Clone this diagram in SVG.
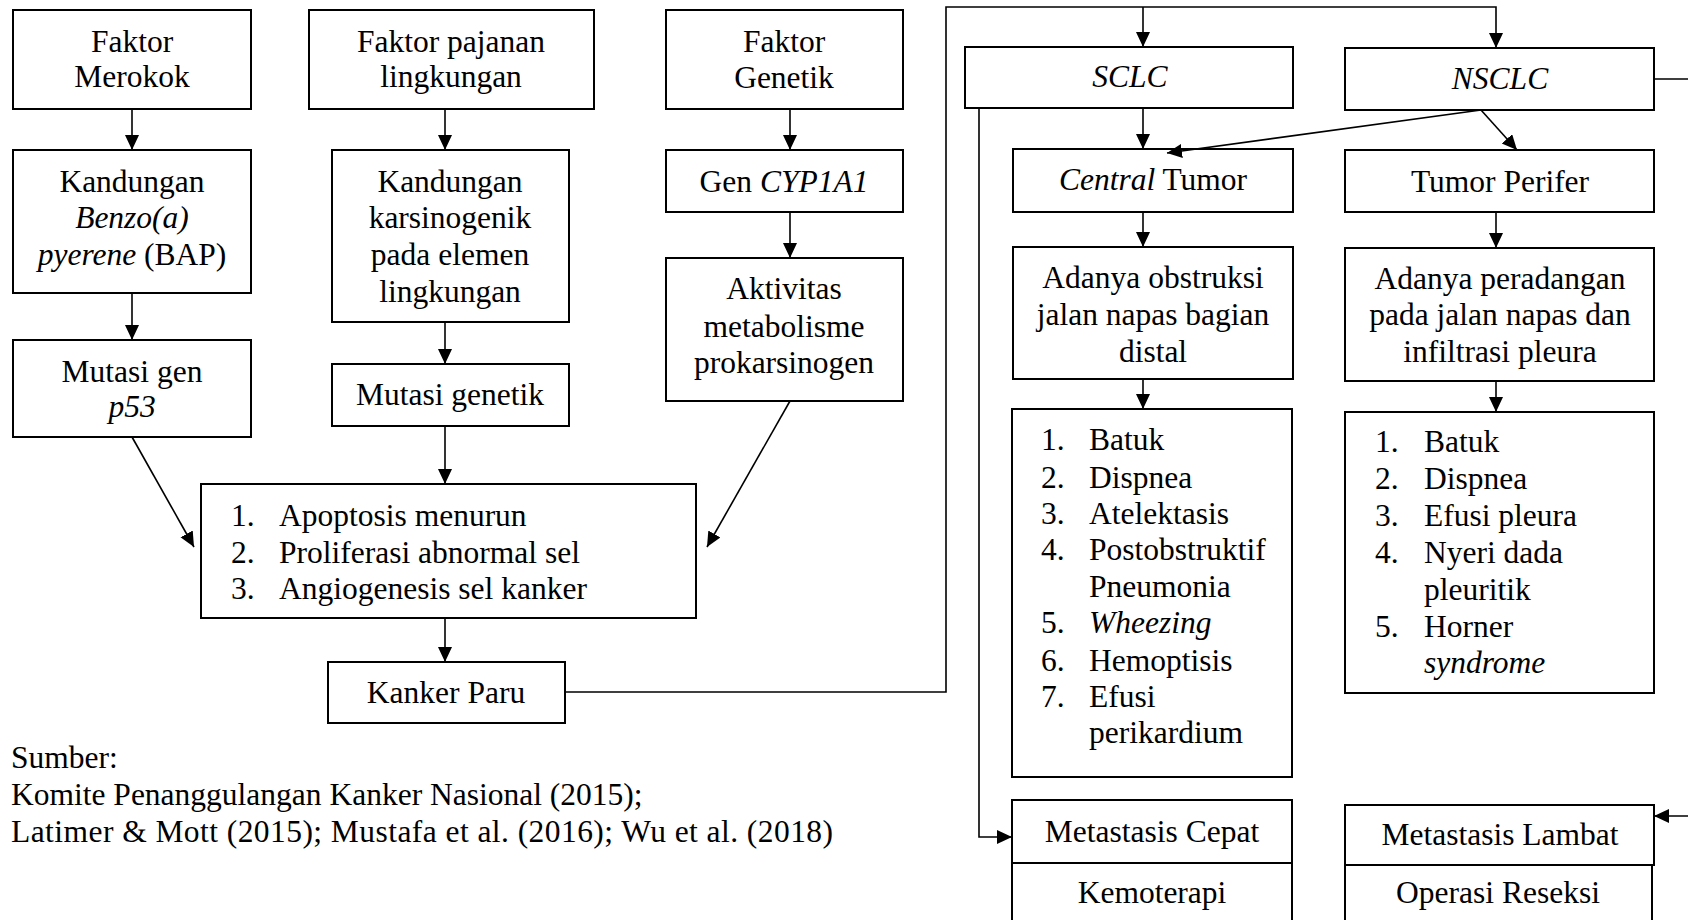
<svg xmlns="http://www.w3.org/2000/svg" width="1688" height="920" viewBox="0 0 1688 920">
<style>
.b{fill:#fff;stroke:#000;stroke-width:2}
.t{font-family:"Liberation Serif","Times New Roman",serif;font-size:31.5px;fill:#000}
.c{text-anchor:middle}
.i{font-style:italic}
.l{fill:none;stroke:#000;stroke-width:1.6}
</style>
<defs>
<marker id="a" markerUnits="userSpaceOnUse" markerWidth="17" markerHeight="15" refX="15" refY="7" orient="auto">
<path d="M0,0 L15,7 L0,14 z" fill="#000"/>
</marker>
</defs>
<rect width="1688" height="920" fill="#fff"/>
<g id="faktor-merokok"><rect class="b" x="13" y="10" width="238" height="99"/>
<text class="t c" x="132" y="52">Faktor</text><text class="t c" x="132" y="87">Merokok</text></g>
<g id="benzo"><rect class="b" x="13" y="150" width="238" height="143"/>
<text class="t c" x="132" y="192">Kandungan</text><text class="t c i" x="132" y="228">Benzo(a)</text>
<text class="t c" x="132" y="265"><tspan class="i">pyerene</tspan> (BAP)</text></g>
<g id="p53"><rect class="b" x="13" y="340" width="238" height="97"/>
<text class="t c" x="132" y="382">Mutasi gen</text><text class="t c i" x="132" y="417">p53</text></g>
<g id="faktor-pajanan"><rect class="b" x="309" y="10" width="285" height="99"/>
<text class="t c" x="451" y="52">Faktor pajanan</text><text class="t c" x="451" y="87">lingkungan</text></g>
<g id="karsinogenik"><rect class="b" x="332" y="150" width="237" height="172"/>
<text class="t c" x="450" y="192">Kandungan</text><text class="t c" x="450" y="228">karsinogenik</text>
<text class="t c" x="450" y="265">pada elemen</text><text class="t c" x="450" y="302">lingkungan</text></g>
<g id="mutasi-genetik"><rect class="b" x="332" y="364" width="237" height="62"/>
<text class="t c" x="450" y="405">Mutasi genetik</text></g>
<g id="faktor-genetik"><rect class="b" x="666" y="10" width="237" height="99"/>
<text class="t c" x="784" y="52">Faktor</text><text class="t c" x="784" y="88">Genetik</text></g>
<g id="cyp1a1"><rect class="b" x="666" y="150" width="237" height="62"/>
<text class="t c" x="784" y="192">Gen <tspan class="i">CYP1A1</tspan></text></g>
<g id="aktivitas"><rect class="b" x="666" y="258" width="237" height="143"/>
<text class="t c" x="784" y="299">Aktivitas</text><text class="t c" x="784" y="337">metabolisme</text><text class="t c" x="784" y="373">prokarsinogen</text></g>
<g id="mekanisme"><rect class="b" x="201" y="484" width="495" height="134"/>
<text class="t" x="231" y="526">1.</text><text class="t" x="279" y="526">Apoptosis menurun</text>
<text class="t" x="231" y="563">2.</text><text class="t" x="279" y="563">Proliferasi abnormal sel</text>
<text class="t" x="231" y="599">3.</text><text class="t" x="279" y="599">Angiogenesis sel kanker</text></g>
<g id="kanker-paru"><rect class="b" x="328" y="662" width="237" height="61"/>
<text class="t c" x="446" y="703">Kanker Paru</text></g>
<g id="sumber">
<text class="t" x="11" y="768">Sumber:</text>
<text class="t" x="11" y="805">Komite Penanggulangan Kanker Nasional (2015);</text>
<text class="t" x="11" y="842" textLength="822" lengthAdjust="spacing">Latimer &amp; Mott (2015); Mustafa et al. (2016); Wu et al. (2018)</text>
</g>
<g id="sclc"><rect class="b" x="965" y="47" width="328" height="61"/>
<text class="t c i" x="1130" y="87">SCLC</text></g>
<g id="nsclc"><rect class="b" x="1345" y="48" width="309" height="62"/>
<text class="t c i" x="1500" y="89">NSCLC</text></g>
<g id="central-tumor"><rect class="b" x="1013" y="149" width="280" height="63"/>
<text class="t c" x="1153" y="190"><tspan class="i">Central</tspan> Tumor</text></g>
<g id="tumor-perifer"><rect class="b" x="1345" y="150" width="309" height="62"/>
<text class="t c" x="1500" y="192">Tumor Perifer</text></g>
<g id="obstruksi"><rect class="b" x="1013" y="247" width="280" height="132"/>
<text class="t c" x="1153" y="288">Adanya obstruksi</text><text class="t c" x="1153" y="325">jalan napas bagian</text><text class="t c" x="1153" y="362">distal</text></g>
<g id="peradangan"><rect class="b" x="1345" y="248" width="309" height="133"/>
<text class="t c" x="1500" y="289">Adanya peradangan</text><text class="t c" x="1500" y="325">pada jalan napas dan</text><text class="t c" x="1500" y="362">infiltrasi pleura</text></g>
<g id="gejala-sclc"><rect class="b" x="1012" y="409" width="280" height="368"/>
<text class="t" x="1041" y="450">1.</text><text class="t" x="1089" y="450">Batuk</text>
<text class="t" x="1041" y="488">2.</text><text class="t" x="1089" y="488">Dispnea</text>
<text class="t" x="1041" y="524">3.</text><text class="t" x="1089" y="524">Atelektasis</text>
<text class="t" x="1041" y="560">4.</text><text class="t" x="1089" y="560">Postobstruktif</text>
<text class="t" x="1089" y="597">Pneumonia</text>
<text class="t" x="1041" y="633">5.</text><text class="t i" x="1089" y="633">Wheezing</text>
<text class="t" x="1041" y="671">6.</text><text class="t" x="1089" y="671">Hemoptisis</text>
<text class="t" x="1041" y="707">7.</text><text class="t" x="1089" y="707">Efusi</text>
<text class="t" x="1089" y="743">perikardium</text></g>
<g id="gejala-nsclc"><rect class="b" x="1345" y="412" width="309" height="281"/>
<text class="t" x="1375" y="452">1.</text><text class="t" x="1424" y="452">Batuk</text>
<text class="t" x="1375" y="489">2.</text><text class="t" x="1424" y="489">Dispnea</text>
<text class="t" x="1375" y="526">3.</text><text class="t" x="1424" y="526">Efusi pleura</text>
<text class="t" x="1375" y="563">4.</text><text class="t" x="1424" y="563">Nyeri dada</text>
<text class="t" x="1424" y="600">pleuritik</text>
<text class="t" x="1375" y="637">5.</text><text class="t" x="1424" y="637">Horner</text>
<text class="t i" x="1424" y="673">syndrome</text></g>
<g id="metastasis-cepat"><rect class="b" x="1012" y="800" width="280" height="63"/>
<text class="t c" x="1152" y="842">Metastasis Cepat</text></g>
<g id="kemoterapi"><rect class="b" x="1012" y="863" width="280" height="70"/>
<text class="t c" x="1152" y="903">Kemoterapi</text></g>
<g id="metastasis-lambat"><rect class="b" x="1345" y="805" width="309" height="60"/>
<text class="t c" x="1500" y="845">Metastasis Lambat</text></g>
<g id="operasi-reseksi"><rect class="b" x="1345" y="865" width="307" height="70"/>
<text class="t c" x="1498" y="903">Operasi Reseksi</text></g>
<g id="connectors">
<path class="l" d="M132,109 V150" marker-end="url(#a)"/>
<path class="l" d="M132,293 V340" marker-end="url(#a)"/>
<path class="l" d="M445,109 V150" marker-end="url(#a)"/>
<path class="l" d="M445,322 V364" marker-end="url(#a)"/>
<path class="l" d="M790,109 V150" marker-end="url(#a)"/>
<path class="l" d="M790,212 V258" marker-end="url(#a)"/>
<path class="l" d="M132,437 L194,547" marker-end="url(#a)"/>
<path class="l" d="M445,426 V484" marker-end="url(#a)"/>
<path class="l" d="M790,401 L707,547" marker-end="url(#a)"/>
<path class="l" d="M445,618 V662" marker-end="url(#a)"/>
<path class="l" d="M565,692 H946 V7 H1496 V48" marker-end="url(#a)"/>
<path class="l" d="M1143,7 V47" marker-end="url(#a)"/>
<path class="l" d="M1143,108 V149" marker-end="url(#a)"/>
<path class="l" d="M1481,110 L1167,153" marker-end="url(#a)"/>
<path class="l" d="M1481,110 L1517,150" marker-end="url(#a)"/>
<path class="l" d="M1143,212 V247" marker-end="url(#a)"/>
<path class="l" d="M1496,212 V248" marker-end="url(#a)"/>
<path class="l" d="M1143,379 V409" marker-end="url(#a)"/>
<path class="l" d="M1496,381 V412" marker-end="url(#a)"/>
<path class="l" d="M979,108 V837 H1012" marker-end="url(#a)"/>
<path class="l" d="M1654,79 H1700 V816 H1654" marker-end="url(#a)"/>
</g>
</svg>
